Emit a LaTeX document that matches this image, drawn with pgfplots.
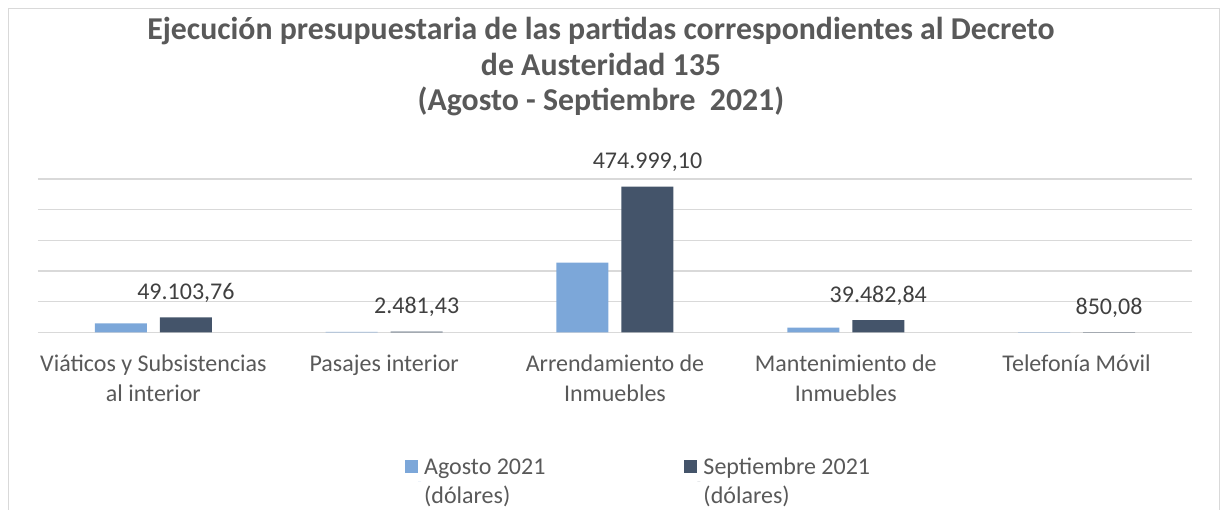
\documentclass[border=0pt]{standalone}
\usepackage{fontspec}
\setmainfont{Carlito}
\usepackage{pgfplots}
\usepackage{pgfplotstable}
\pgfplotsset{compat=1.18}
\definecolor{ago}{RGB}{124,167,217}
\definecolor{sep}{RGB}{68,84,106}
\definecolor{gridc}{RGB}{217,217,217}
\definecolor{txt}{RGB}{89,89,89}
\definecolor{lbl}{RGB}{64,64,64}
\newcommand{\fl}{\rule{0pt}{20pt}}
\newcommand{\tl}{\rule{0pt}{28pt}}
\pgfplotstableread{
x y
0 29350
1 1200
2 227000
3 15000
4 700
}\agosto
\pgfplotstableread{
x y lab
0 49103.76 49.103,76
1 2481.43 2.481,43
2 474999.10 474.999,10
3 39482.84 39.482,84
4 850.08 850,08
}\septiembre
\begin{document}
\begin{tikzpicture}
\path[use as bounding box] (0pt,0pt) rectangle (1223pt,-509pt);
\draw[gridc, line width=1.2pt] (8.6pt,-8.6pt) rectangle (1219.6pt,-560pt);
\node[anchor=north, align=center, inner sep=0pt, text=txt, font=\bfseries\fontsize{31.8}{35.5}\selectfont] at (601pt,-11.3pt)
  {\tl Ejecución presupuestaria de las partidas correspondientes al Decreto\\de Austeridad 135\\(Agosto - Septiembre\ \ 2021)};
\begin{axis}[
  at={(38pt,-332.3pt)}, anchor=south west,
  scale only axis, width=1154pt, height=153.3pt,
  xmin=-0.5, xmax=4.5, ymin=0, ymax=500000,
  ybar=13pt, bar width=52pt,
  axis line style={draw=none},
  ymajorgrids, grid style={gridc, line width=1.3pt},
  scaled y ticks=false,
  ytick={0,100000,200000,300000,400000,500000}, yticklabels={},
  xtick={0,1,2,3,4},
  xticklabels={{\fl Viáticos y Subsistencias\\al interior},{\fl Pasajes interior},{\fl Arrendamiento de\\Inmuebles},{\fl Mantenimiento de\\Inmuebles},{\fl Telefonía Móvil}},
  xticklabel style={align=center, anchor=north, inner sep=0pt, yshift=-18.6pt, font=\fontsize{24}{30}\selectfont, text=txt},
  major tick length=0pt,
  legend columns=2,
  legend cell align=left,
  legend style={at={(axis description cs:0.318,-0.80)}, anchor=north west, draw=none, fill=none,
    inner sep=0pt, font=\fontsize{24}{29}\selectfont, text=txt,
    nodes={align=left, inner sep=3pt},
    /tikz/every even column/.append style={column sep=136pt}},
  legend image code/.code={\fill[#1] (0pt,9pt) rectangle (13pt,22pt);\path (13pt,0pt) -- (16pt,0pt);},
]
\addplot[fill=ago, draw=none] table[x=x, y=y] {\agosto};
\addlegendentry{Agosto 2021\\(dólares)}
\addplot[fill=sep, draw=none, nodes near coords, point meta=explicit symbolic,
  every node near coord/.append style={anchor=base, yshift=18pt, font=\fontsize{24}{29}\selectfont, text=lbl}]
  table[x=x, y=y, meta=lab] {\septiembre};
\addlegendentry{Septiembre 2021\\(dólares)}
\end{axis}
\end{tikzpicture}
\end{document}
